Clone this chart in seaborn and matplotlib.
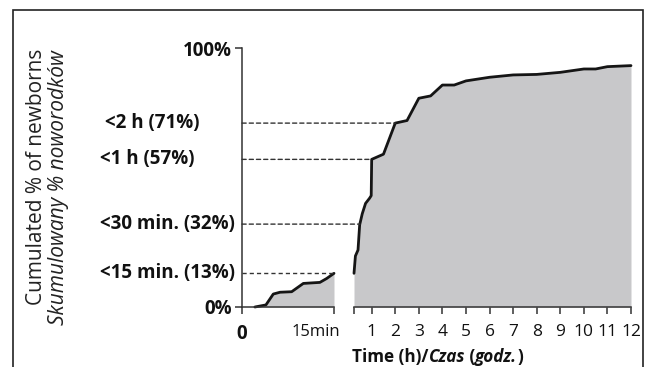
import numpy as np
import pandas as pd
import seaborn as sns
import matplotlib
matplotlib.use("Agg")
import matplotlib.pyplot as plt
from matplotlib.patches import Rectangle, ConnectionPatch
import matplotlib.transforms as mtransforms

# ---------------- data ----------------
# first 15 minutes (minutes, cumulated %)
early_minutes = [2.1, 3.9, 5.1, 6.2, 8.1, 10.0, 12.7, 13.8, 15.0]
early_pct = [0.0, 0.8, 5.0, 5.7, 5.9, 9.1, 9.5, 11.0, 13.0]

# from 15 min to 12 h (hours, cumulated %)
late_hours = [0.25, 0.31, 0.42, 0.49, 0.60, 0.74, 0.91, 0.98, 1.0, 1.5, 2.0, 2.5,
              3.0, 3.5, 4.0, 4.5, 5.0, 6.0, 7.0, 8.0, 9.0, 10.0, 10.5, 11.0, 12.0]
late_pct = [13.0, 19.7, 22.0, 31.7, 36.0, 40.0, 42.0, 43.0, 57.0, 59.0, 71.0, 72.0,
            80.6, 81.5, 85.7, 85.7, 87.3, 88.7, 89.6, 89.8, 90.6, 91.9, 91.9, 92.8, 93.2]

# reference markers (label, %, time in hours)
marker_labels = ["<15 min. (13%)", "<30 min. (32%)", "<1 h (57%)", "<2 h (71%)"]
marker_pct = [13, 32, 57, 71]
marker_hours = [0.25, 0.5, 1.0, 2.0]

hour_ticks = [0.25, 1, 2, 3, 4, 5, 6, 7, 8, 9, 10, 11, 12]
hour_ticklabels = ["", "1", "2", "3", "4", "5", "6", "7", "8", "9", "10", "11", "12"]

early_df = pd.DataFrame({"t": early_minutes, "pct": early_pct})
late_df = pd.DataFrame({"t": late_hours, "pct": late_pct})

# ---------------- style ----------------
sns.set_theme(style="white")
plt.rcParams["font.family"] = ["Open Sans", "DejaVu Sans"]

W, H = 652, 367
fig = plt.figure(figsize=(W / 100, H / 100), dpi=100)
fig.patch.set_facecolor("white")

def fx(px):
    return px / W

def fy(py):
    return 1 - py / H

y0, y100 = 307, 48
axL = fig.add_axes([fx(242), fy(y0), fx(334 - 242), (y0 - y100) / H])
axR = fig.add_axes([fx(354), fy(y0), fx(631 - 354), (y0 - y100) / H])

FILL = "#c8c8ca"
LINE = "#151515"
SPINE = "#333333"
DASH = "#333333"
TXT = "#111111"
LBL = 13.5

for ax in (axL, axR):
    ax.set_facecolor("none")
    ax.set_ylim(0, 100)
    for s in ("top", "right"):
        ax.spines[s].set_visible(False)
    ax.spines["bottom"].set_color(SPINE)
    ax.spines["bottom"].set_linewidth(1.1)

# left panel
axL.fill_between(early_df["t"], early_df["pct"], 0, color=FILL, lw=0)
sns.lineplot(data=early_df, x="t", y="pct", ax=axL, color=LINE, lw=2.0,
             sort=False, clip_on=False)
axL.set_xlim(0, 15)
axL.spines["left"].set_color(SPINE)
axL.spines["left"].set_linewidth(1.1)
axL.set_xticks([0, 15])
axL.set_xticklabels(["0", "15min"])
axL.set_yticks([0, 100])
axL.set_yticklabels(["0%", "100%"])
axL.tick_params(axis="both", direction="out", length=5, width=1.1, color=SPINE,
                labelcolor=TXT, pad=2, left=True, bottom=True)
axL.tick_params(axis="x", pad=7)
for lab in axL.get_yticklabels():
    lab.set_fontweight("bold")
    lab.set_fontsize(LBL)
xl = axL.get_xticklabels()
xl[0].set_fontweight("bold")
xl[0].set_fontsize(LBL)
xl[1].set_fontsize(12)
xl[1].set_horizontalalignment("right")
xl[1].set_transform(xl[1].get_transform() + mtransforms.ScaledTranslation(6 / 100, 0, fig.dpi_scale_trans))
axL.set_xlabel("")
axL.set_ylabel("")

# right panel
axR.fill_between(late_df["t"], late_df["pct"], 0, color=FILL, lw=0)
sns.lineplot(data=late_df, x="t", y="pct", ax=axR, color=LINE, lw=2.0,
             sort=False, clip_on=False)
axR.set_xlim(0.25, 12)
axR.spines["left"].set_visible(False)
axR.set_yticks([])
axR.set_xticks(hour_ticks)
axR.set_xticklabels(hour_ticklabels)
axR.tick_params(axis="x", direction="out", length=5, width=1.1, color=SPINE,
                labelcolor=TXT, pad=7, labelsize=12.5, bottom=True)
axR.set_xlabel("")
axR.set_ylabel("")

# dashed reference lines and labels
label_tr = mtransforms.blended_transform_factory(fig.transFigure, axL.transData)
for lab, p, h in zip(marker_labels, marker_pct, marker_hours):
    if h <= 0.25:
        axL.plot([0, 15], [p, p], ls=(0, (3, 2.2)), color=DASH, lw=1.0)
    else:
        con = ConnectionPatch(xyA=(0, p), coordsA=axL.transData,
                              xyB=(h, p), coordsB=axR.transData,
                              ls=(0, (3, 2.2)), color=DASH, lw=1.0)
        fig.add_artist(con)
    xoff = 105 if lab.startswith("<2") else 100
    fig.text(fx(xoff), p, lab, transform=label_tr, ha="left", va="center",
             fontsize=LBL, fontweight="bold", color=TXT)

# axis title pieces: "Time (h)/Czas (godz.)"
pieces = [("Time (h)/", "normal"), ("Czas", "italic"), (" (", "normal"),
          ("godz.", "italic"), (")", "normal")]
prev = fig.text(fx(352), fy(366), pieces[0][0], ha="left", va="bottom",
                fontsize=12.3, fontweight="bold", color=TXT)
for txt, st in pieces[1:]:
    prev = fig.axes[0].annotate(txt, xy=(1, 0), xycoords=prev,
                                ha="left", va="bottom",
                                fontsize=12.3, fontweight="bold", fontstyle=st,
                                color=TXT, annotation_clip=False)

# y-axis title (two lines)
fig.text(fx(37), fy(177), "Cumulated % of newborns", rotation=90, ha="center",
         va="center", fontsize=15, fontweight="normal", color="#222222")
fig.text(fx(59), fy(188), "Skumulowany % noworodków", rotation=90, ha="center",
         va="center", fontsize=15, fontweight="normal", fontstyle="italic",
         color="#222222")

# outer frame (bottom edge outside the image)
fig.add_artist(Rectangle((fx(13), -0.1), fx(643 - 13), 1.1 - 10 / H,
                         transform=fig.transFigure, fill=False,
                         edgecolor="#222222", lw=1.2))

fig.savefig("out.png", dpi=100)
